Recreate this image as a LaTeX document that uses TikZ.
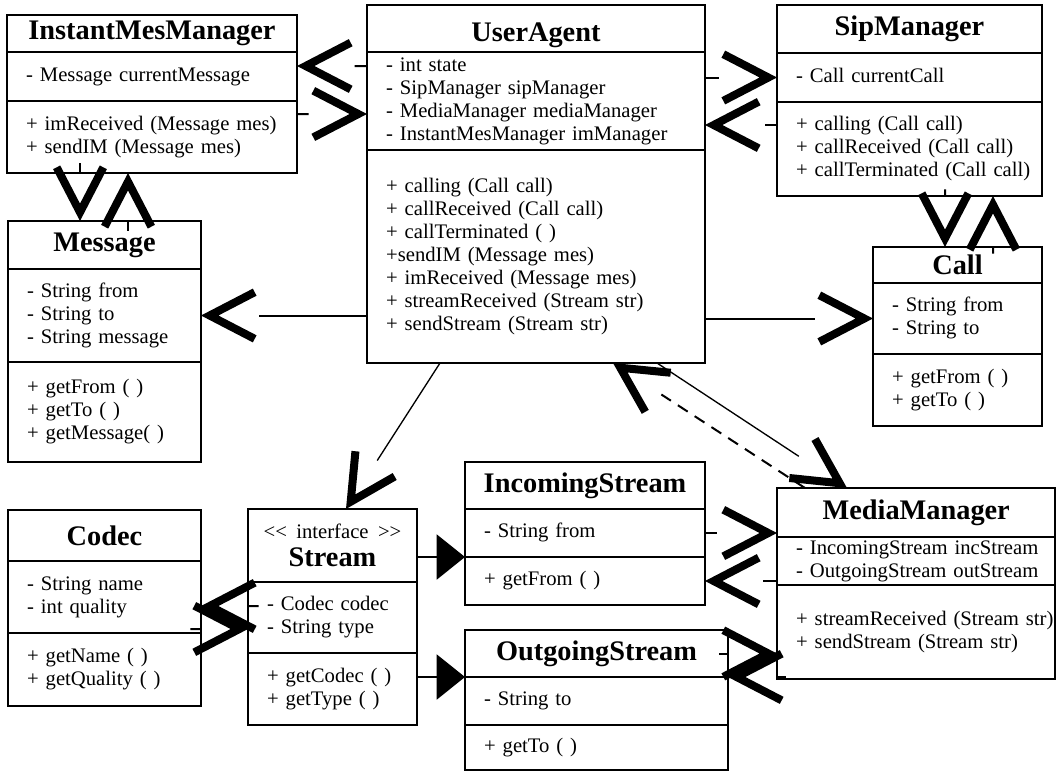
\documentclass[tikz,border=0pt]{standalone}
\usepackage{fontspec}
\setmainfont{Liberation Serif}
\usetikzlibrary{positioning,arrows.meta}

% member lists, left padded
\newcommand{\members}[1]{\begin{tabular}{@{\hspace{11.5pt}}l@{}}#1\end{tabular}}

\begin{document}
\begin{tikzpicture}[
    x=0.6pt, y=-0.6pt, % pixel grid, y down
    every node/.style={font=\fontsize{12.4}{13.8}\selectfont},
    box/.style={draw, line width=1.2pt, inner sep=0pt, outer sep=0pt},
    head/.style={box, align=center, font=\fontsize{17}{20}\selectfont\bfseries},
    part/.style={box, align=left},
    assoc/.style={line width=1.2pt, -{. Straight Barb[length=27pt,width=28pt,line width=4.8pt]}},
    dep/.style={assoc, dash pattern=on 7pt off 5pt},
    gen/.style={line width=1.2pt, -{Triangle[length=17pt,width=27pt]}},
]
\useasboundingbox (0,0) rectangle (1059,776);

% classes
\node[head, text width=174pt, minimum height=22.2pt, anchor=north west] (im) at (7,15) {InstantMesManager};
\node[part, text width=174pt, minimum height=29.4pt, below=0pt of im] (im-f) {\members{- Message currentMessage}};
\node[part, text width=174pt, minimum height=43.2pt, below=0pt of im-f] (im-m) {\members{+ imReceived (Message mes)\\ + sendIM (Message mes)}};

\node[head, text width=202.8pt, minimum height=28.2pt, anchor=north west, text height=20pt, text depth=4pt] (ua) at (367,5) {UserAgent};
\node[part, text width=202.8pt, minimum height=58.8pt, below=0pt of ua] (ua-f) {\members{- int state\\ - SipManager sipManager\\ - MediaManager mediaManager\\ - InstantMesManager imManager}};
\node[part, text width=202.8pt, minimum height=127.8pt, below=0pt of ua-f] (ua-m) {\members{+ calling (Call call)\\ + callReceived (Call call)\\ + callTerminated ( )\\ +sendIM (Message mes)\\ + imReceived (Message mes)\\ + streamReceived (Stream str)\\ + sendStream (Stream str)}};

\node[head, text width=159pt, minimum height=28.8pt, anchor=north west] (sip) at (777,5) {SipManager};
\node[part, text width=159pt, minimum height=29.4pt, below=0pt of sip] (sip-f) {\members{- Call currentCall}};
\node[part, text width=159pt, minimum height=56.4pt, below=0pt of sip-f] (sip-m) {\members{+ calling (Call call)\\ + callReceived (Call call)\\ + callTerminated (Call call)}};

\node[head, text width=115.8pt, minimum height=28.8pt, anchor=north west] (msg) at (8,221) {Message};
\node[part, text width=115.8pt, minimum height=55.8pt, below=0pt of msg] (msg-f) {\members{- String from\\ - String to\\ - String message}};
\node[part, text width=115.8pt, minimum height=60pt, below=0pt of msg-f] (msg-m) {\members{+ getFrom ( )\\ + getTo ( )\\ + getMessage( )}};

\node[head, text width=101.4pt, minimum height=21.6pt, anchor=north west] (call) at (873,247) {Call};
\node[part, text width=101.4pt, minimum height=42.6pt, below=0pt of call] (call-f) {\members{- String from\\ - String to}};
\node[part, text width=101.4pt, minimum height=43.2pt, below=0pt of call-f] (call-m) {\members{+ getFrom ( )\\ + getTo ( )}};

\node[head, text width=115.8pt, minimum height=30.6pt, anchor=north west] (codec) at (8,510) {Codec};
\node[part, text width=115.8pt, minimum height=43.2pt, below=0pt of codec] (codec-f) {\members{- String name\\ - int quality}};
\node[part, text width=115.8pt, minimum height=43.8pt, below=0pt of codec-f] (codec-m) {\members{+ getName ( )\\ + getQuality ( )}};

\node[head, text width=101.4pt, minimum height=43.8pt, anchor=north west] (str) at (248,509) {{\fontsize{12.4}{13.8}\selectfont\mdseries <{}< interface >{}>}\\[-3pt] Stream};
\node[part, text width=101.4pt, minimum height=42.6pt, below=0pt of str] (str-f) {\members{- Codec codec\\ - String type}};
\node[part, text width=101.4pt, minimum height=43.2pt, below=0pt of str-f] (str-m) {\members{+ getCodec ( )\\ + getType ( )}};

\node[head, text width=144pt, minimum height=28.2pt, anchor=north west] (is) at (465,462) {IncomingStream};
\node[part, text width=144pt, minimum height=28.8pt, below=0pt of is] (is-f) {\members{- String from}};
\node[part, text width=144pt, minimum height=28.8pt, below=0pt of is-f] (is-m) {\members{+ getFrom ( )}};

\node[head, text width=157.8pt, minimum height=28.2pt, anchor=north west] (os) at (465,630) {OutgoingStream};
\node[part, text width=157.8pt, minimum height=28.8pt, below=0pt of os] (os-f) {\members{- String to}};
\node[part, text width=157.8pt, minimum height=27pt, below=0pt of os-f] (os-m) {\members{+ getTo ( )}};

\node[head, text width=167pt, minimum height=29.4pt, anchor=north west] (mm) at (777,488) {MediaManager};
\node[part, text width=167pt, minimum height=28.8pt, below=0pt of mm] (mm-f) {\members{- IncomingStream incStream\\ - OutgoingStream outStream}};
\node[part, text width=167pt, minimum height=56.4pt, below=0pt of mm-f] (mm-m) {\members{+ streamReceived (Stream str)\\ + sendStream (Stream str)}};

% relations
\draw[assoc] ([yshift=-8.4pt]ua-f.north west) -- ([yshift=-8.4pt]im-f.north east);
\draw[dep] ([yshift=-7.8pt]im-m.north east) -- ([yshift=-37.2pt]ua-f.north west);
\draw[assoc] (ua-f.east |- sip-f.west) -- (sip-f.west);
\draw[dep] ([yshift=-13.8pt]sip-m.north west) -- ([yshift=-43.8pt]ua-f.north east);
\draw[assoc] ([xshift=43.8pt]im-m.south west) -- ([xshift=43.2pt]msg.north west);
\draw[dep] ([xshift=72pt]msg.north west) -- ([xshift=72.6pt]im-m.south west);
\draw[assoc] ([xshift=100.8pt]sip-m.south west) -- ([xshift=43.2pt]call.north west);
\draw[dep] ([xshift=72pt]call.north west) -- ([xshift=129.6pt]sip-m.south west);
\draw[assoc] (ua-m.west |- msg-f.east) -- (msg-f.east);
\draw[assoc] (ua-m.east |- call-f.west) -- (call-f.west);
\draw[assoc, line width=0.8pt] ([xshift=43.8pt]ua-m.south west) -- ([xshift=58.8pt]str.north west);
\draw[assoc, line width=0.8pt] ([xshift=-28.8pt]ua-m.south east) -- ([xshift=42pt]mm.north west);
\draw[dep] ([xshift=16.8pt]mm.north west) -- ([xshift=-55.2pt]ua-m.south east);
\draw[gen] (str.east |- is-f.south west) -- (is-f.south west);
\draw[gen] (str.east |- os.south west) -- (os.south west);
\draw[assoc] ([yshift=-14.4pt]str-f.north west) -- ([yshift=-27pt]codec-f.north east);
\draw[dep] ([yshift=-40.8pt]codec-f.north east) -- ([yshift=-28.2pt]str-f.north west);
\draw[dep] (is-f.east) -- (mm.west |- is-f.east);
\draw[assoc] (mm-f.west |- is-m.east) -- (is-m.east);
\draw[dep] (os.east) -- (mm-m.west |- os.east);
\draw[assoc] (mm-m.west |- os.south east) -- (os.south east);
\end{tikzpicture}
\end{document}
